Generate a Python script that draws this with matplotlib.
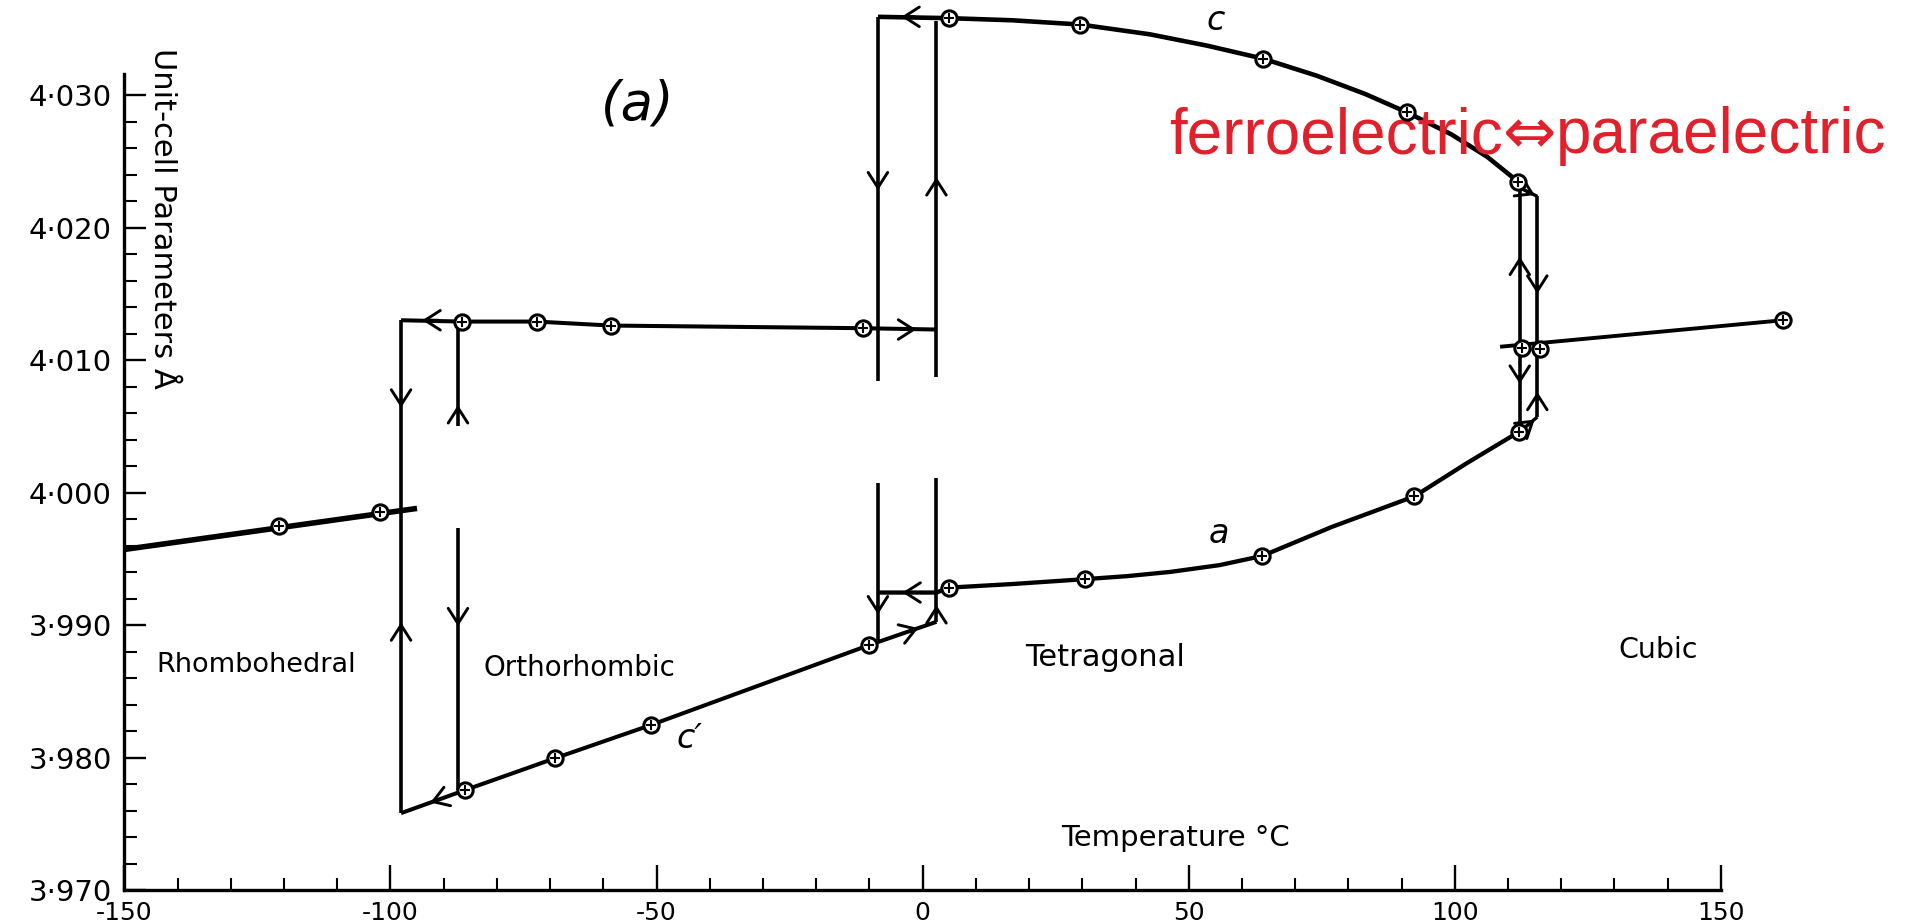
import matplotlib
matplotlib.use("Agg")
import matplotlib.pyplot as plt
import numpy as np

# ---------------- data: BaTiO3 unit-cell parameters (Angstrom) vs temperature (deg C)
# Rhombohedral phase
rhomb_line_T = [-150, -95]
rhomb_line_A = [3.9957, 3.9988]
rhomb_T = [-121, -102]
rhomb_A = [3.9975, 3.9985]

# Orthorhombic phase, a = b branch
ortho_line_T = [-98, -86.5, -72.5, -58.6, -11.2, 2.6]
ortho_line_A = [4.0130, 4.0129, 4.0129, 4.0126, 4.0124, 4.0123]
ortho_T = [-86.5, -72.5, -58.6, -11.2]
ortho_A = [4.0129, 4.0129, 4.0126, 4.0124]

# Orthorhombic phase, c' branch
cprime_line_T = [-98, -85.9, -69.1, -51.0, -10.0, 2.6]
cprime_line_A = [3.9758, 3.97755, 3.97994, 3.98246, 3.98849, 3.99024]
cprime_T = [-85.9, -69.1, -51.0, -10.0]
cprime_A = [3.97755, 3.97994, 3.98246, 3.98849]

# Tetragonal phase, c axis
tc_line_T = [-8.4, 4.9, 16.8, 29.6, 42.7, 53.5, 64.0, 74.1, 83.2, 91.0, 99.3, 106.1, 111.9, 112.2]
tc_line_A = [4.0359, 4.0358, 4.03564, 4.03532, 4.03458, 4.03372, 4.03274, 4.03145,
             4.03007, 4.02869, 4.02704, 4.02533, 4.02345, 4.0230]
tc_T = [4.9, 29.6, 64.0, 91.0, 111.9]
tc_A = [4.0358, 4.03532, 4.03274, 4.02869, 4.02345]

# Tetragonal phase, a axis
ta_line_T = [-8.4, 2.6, 4.9, 16.8, 30.5, 38.5, 46.6, 55.8, 63.8, 77.0, 92.4, 102.2, 112.1]
ta_line_A = [3.99245, 3.99245, 3.99282, 3.99309, 3.99346, 3.99369, 3.99401, 3.99452,
             3.99521, 3.99742, 3.99971, 4.0022, 4.00459]
ta_T = [4.9, 30.5, 63.8, 92.4, 112.1]
ta_A = [3.99282, 3.99346, 3.99521, 3.99971, 4.00459]

# Cubic phase
cub_line_T = [108.5, 161.6]
cub_line_A = [4.0110, 4.0130]
cub_T = [112.6, 116.0, 161.6]
cub_A = [4.0109, 4.0108, 4.0130]

# Hysteresis jumps at the transitions: temperature, upper and lower parameter
jump_T = [-98, -87.3, -87.3, -8.4, -8.4, 2.6, 2.6, 112.2, 115.5]
jump_top = [4.0130, 4.0129, 3.9973, 4.0359, 4.0007, 4.0356, 4.0011, 4.0230, 4.02235]
jump_bot = [3.9758, 4.0050, 3.97755, 4.0084, 3.9889, 4.0087, 3.99024, 4.0050, 4.0057]

# Short connectors at the tetragonal/cubic transition (start -> end)
link_T0 = [112.2, 112.2]
link_A0 = [4.0230, 4.00459]
link_T1 = [115.5, 115.5]
link_A1 = [4.02235, 4.0057]

# Direction arrows along the loops: (tail T, tail A, tip T, tip A)
arrows = [
    (-91.0, 4.0130, -94.0, 4.0130),
    (-98.0, 4.0070, -98.0, 4.0064),
    (-98.0, 3.9896, -98.0, 3.9902),
    (-87.3, 4.0060, -87.3, 4.0066),
    (-87.3, 3.9905, -87.3, 3.9899),
    (-90.0, 3.97696, -92.5, 3.9766),
    (-1.5, 4.0359, -4.0, 4.0359),
    (-4.0, 4.0123, -1.2, 4.0123),
    (-8.4, 4.0234, -8.4, 4.0228),
    (2.6, 4.0232, 2.6, 4.0238),
    (-1.3, 3.99245, -3.8, 3.99245),
    (-8.4, 3.9914, -8.4, 3.9908),
    (2.6, 3.9909, 2.6, 3.9915),
    (-3.5, 3.98939, -0.8, 3.98977),
    (112.2, 4.0172, 112.2, 4.0178),
    (115.5, 4.0156, 115.5, 4.0150),
    (112.2, 4.0088, 112.2, 4.0082),
    (115.5, 4.0070, 115.5, 4.0076),
    (112.2, 4.0230, 115.0, 4.02245),
    (112.2, 4.00459, 115.0, 4.0055),
]

x_major = [-150, -100, -50, 0, 50, 100, 150]
x_labels = ["-150", "-100", "-50", "0", "50", "100", "150"]
y_major = [3.970, 3.980, 3.990, 4.000, 4.010, 4.020, 4.030]
y_labels = ["3·970", "3·980", "3·990", "4·000", "4·010", "4·020", "4·030"]

# ---------------- figure
plt.rcParams["font.family"] = ["DejaVu Sans"]
fig = plt.figure(figsize=(19.12, 9.23), dpi=100)
ax = fig.add_axes([0.06501, 0.03575, 0.90465, 0.96181])
ax.set_xlim(-150, 175)
ax.set_ylim(3.970, 4.037)

for s in ("top", "right"):
    ax.spines[s].set_visible(False)
ax.spines["left"].set_bounds(3.970, 4.0316)
ax.spines["bottom"].set_bounds(-150, 150)
for s in ("left", "bottom"):
    ax.spines[s].set_linewidth(2.4)

ax.set_xticks(x_major)
ax.set_xticklabels(x_labels)
ax.set_xticks([t for t in range(-140, 150, 10) if t % 50], minor=True)
ax.set_yticks(y_major)
ax.set_yticklabels(y_labels)
ax.set_yticks([v for v in np.arange(3.972, 4.030, 0.002)
               if abs((v - 3.970) / 0.01 - round((v - 3.970) / 0.01)) > 0.1], minor=True)
ax.tick_params(axis="x", which="major", direction="in", length=18, width=1.7, pad=8, labelsize=18)
ax.tick_params(axis="x", which="minor", direction="in", length=9, width=1.5)
ax.tick_params(axis="y", which="major", direction="in", length=16, width=1.7, pad=9, labelsize=21)
ax.tick_params(axis="y", which="minor", direction="in", length=9, width=1.5)

line_kw = dict(color="black", solid_joinstyle="round", solid_capstyle="butt")
ax.plot(rhomb_line_T, rhomb_line_A, lw=4.0, **line_kw)
ax.plot(ortho_line_T, ortho_line_A, lw=2.9, **line_kw)
ax.plot(cprime_line_T, cprime_line_A, lw=2.9, **line_kw)
ax.plot(tc_line_T, tc_line_A, lw=3.3, **line_kw)
ax.plot(ta_line_T, ta_line_A, lw=3.1, **line_kw)
ax.plot(cub_line_T, cub_line_A, lw=2.8, **line_kw)
ax.vlines(jump_T, jump_bot, jump_top, colors="black", lw=2.6)
for t0, a0, t1, a1 in zip(link_T0, link_A0, link_T1, link_A1):
    ax.plot([t0, t1], [a0, a1], lw=2.4, **line_kw)

for tail_t, tail_a, tip_t, tip_a in arrows:
    ax.annotate("", xy=(tip_t, tip_a), xytext=(tail_t, tail_a),
                arrowprops=dict(arrowstyle="->,head_length=0.5,head_width=0.32",
                                lw=2.1, color="black", shrinkA=0, shrinkB=0,
                                mutation_scale=22))

for T, A in ((rhomb_T, rhomb_A), (ortho_T, ortho_A), (cprime_T, cprime_A),
             (tc_T, tc_A), (ta_T, ta_A), (cub_T, cub_A)):
    ax.plot(T, A, "o", ms=11, mfc="white", mec="black", mew=2.2, zorder=5)
    ax.plot(T, A, "+", ms=7.5, mec="black", mew=1.5, zorder=6)

# ---------------- text
ax.text(-125.2, 3.98698, "Rhombohedral", fontsize=19.5, ha="center", va="center")
ax.text(-64.5, 3.98675, "Orthorhombic", fontsize=20, ha="center", va="center")
ax.text(34.2, 3.98751, "Tetragonal", fontsize=22, ha="center", va="center")
ax.text(138.2, 3.98811, "Cubic", fontsize=20.5, ha="center", va="center")
ax.text(47.5, 3.97392, "Temperature °C", fontsize=21, ha="center", va="center")
ax.text(-142.9, 4.0207, "Unit-cell Parameters Å", fontsize=22, rotation=-90,
        ha="center", va="center")
ax.text(-53.5, 4.02925, "(a)", fontsize=38, style="italic", ha="center", va="center")
ax.text(55.1, 4.0356, "c", fontsize=24, style="italic", ha="center", va="center")
ax.text(55.7, 3.9969, "a", fontsize=24, style="italic", ha="center", va="center")
ax.text(-43.9, 3.98147, "c′", fontsize=24, style="italic", ha="center", va="center")

red = "#e0202a"
t_left = ax.text(46.3, 4.02562, "ferroelectric", fontsize=46, color=red,
                 family=["Liberation Sans", "DejaVu Sans"], ha="left", va="baseline")
t_mid = ax.annotate("⇔", xy=(1.0, 0.0), xycoords=t_left, fontsize=46, color=red,
                    family=["DejaVu Sans"], ha="left", va="bottom")
ax.annotate("paraelectric", xy=(1.0, 0.0), xycoords=t_mid, fontsize=46, color=red,
            family=["Liberation Sans", "DejaVu Sans"], ha="left", va="bottom")

fig.savefig("out.png", dpi=100, facecolor="white")
